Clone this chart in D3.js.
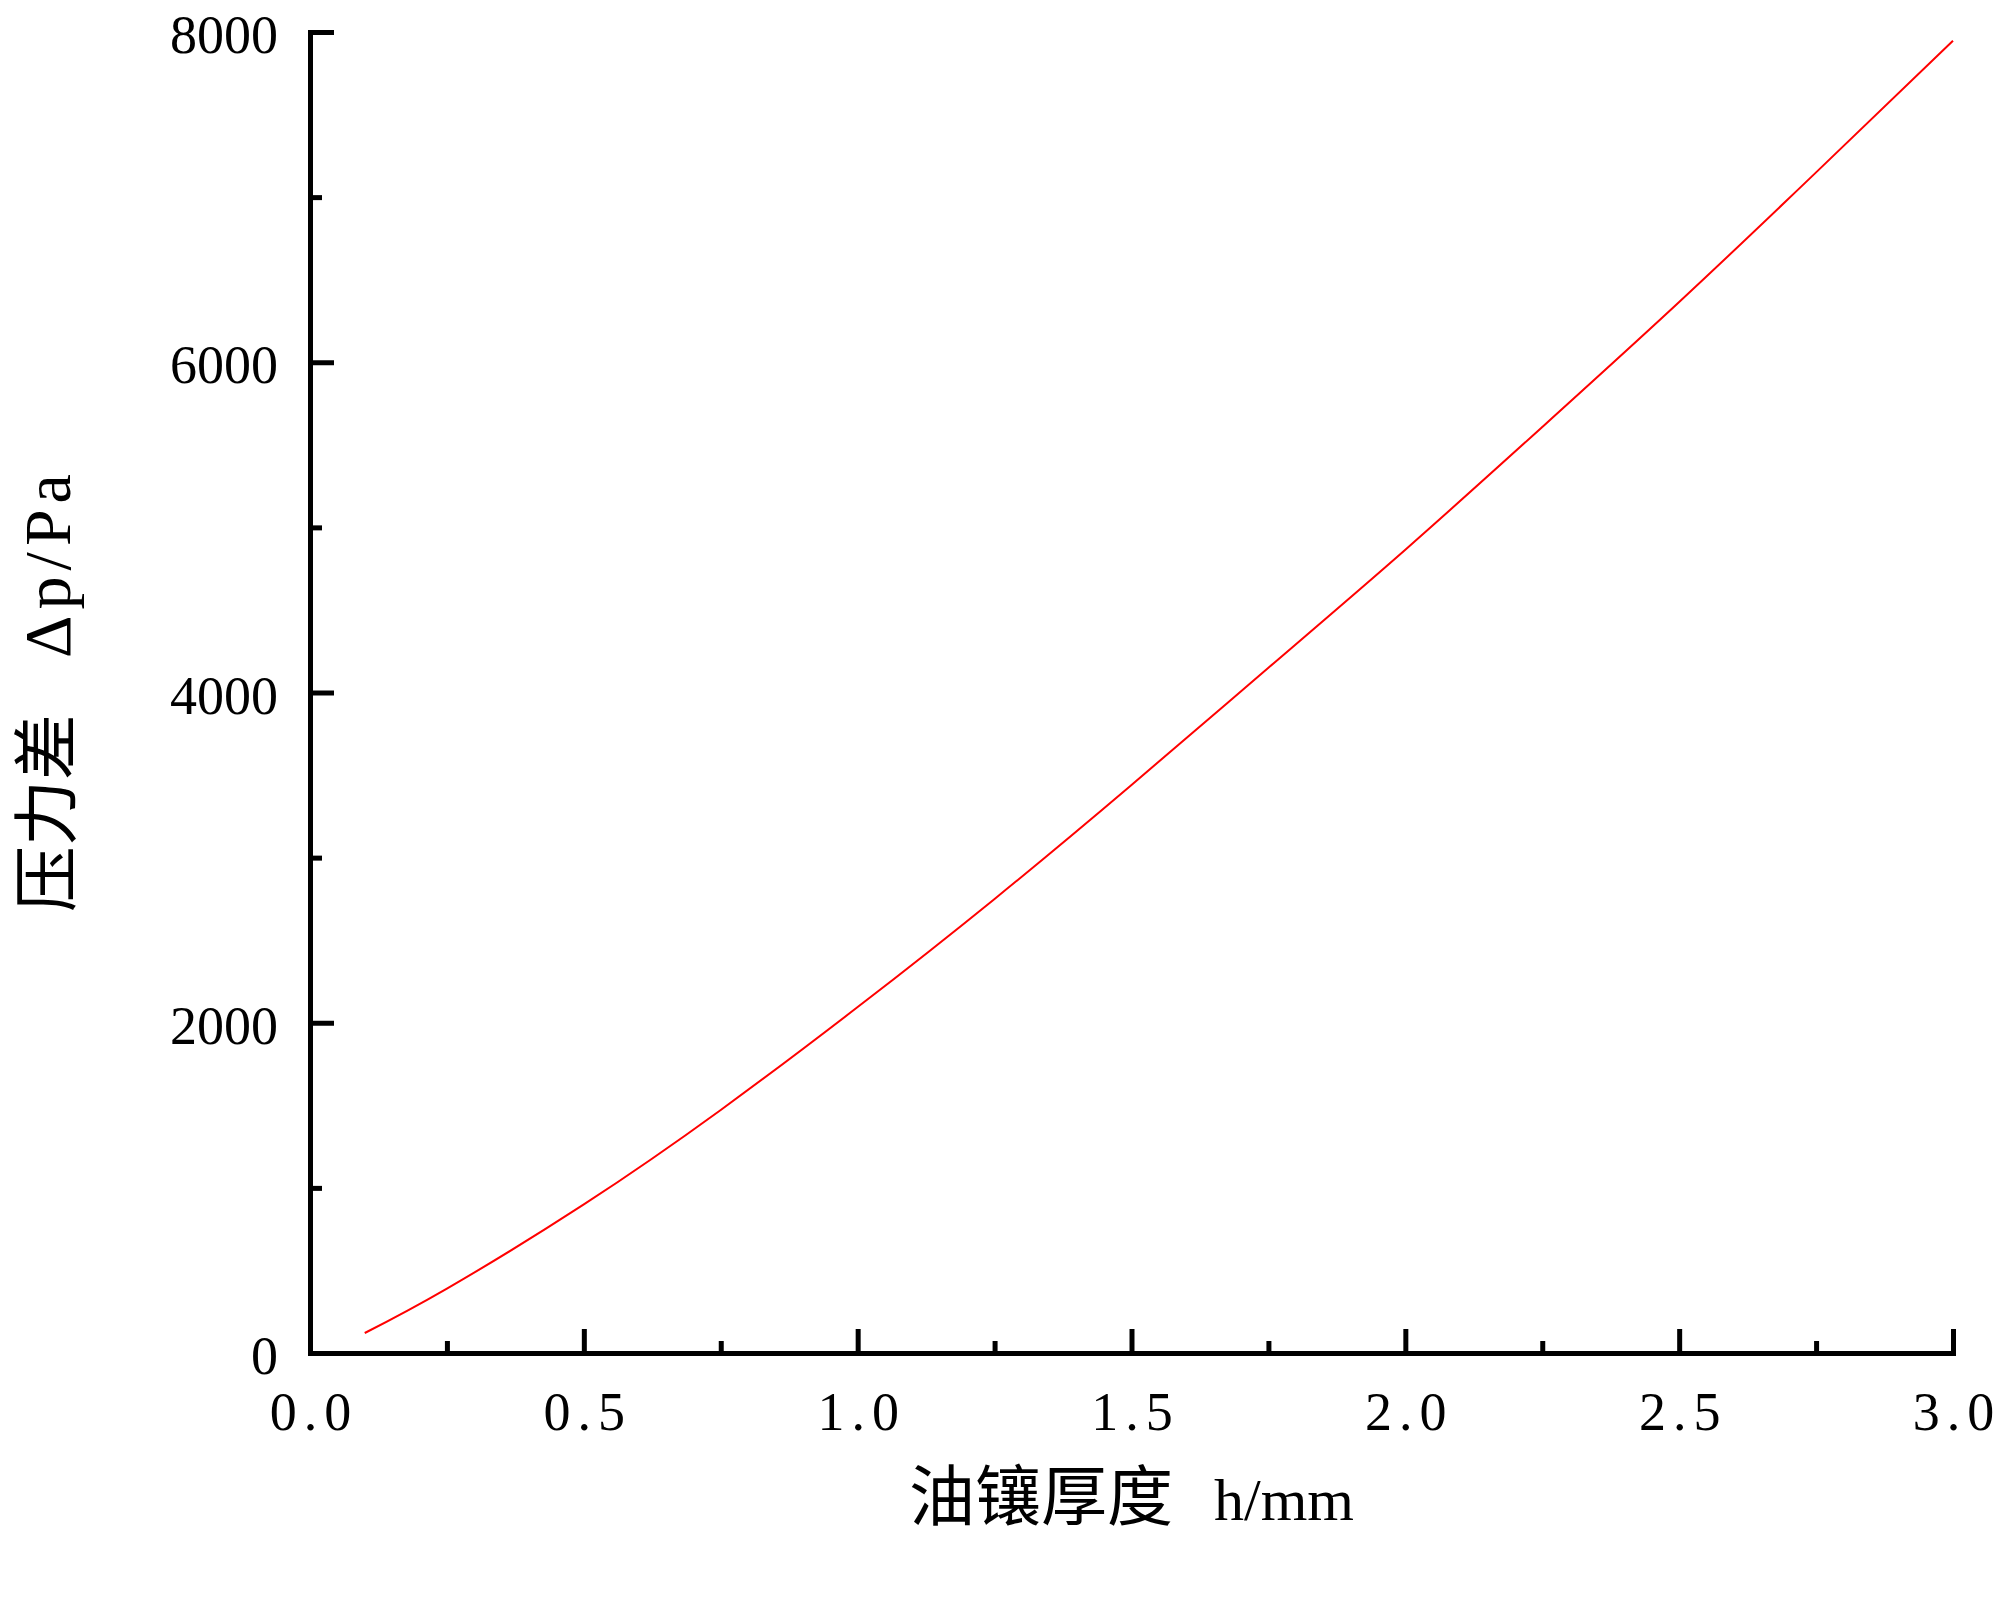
<!DOCTYPE html>
<html>
<head>
<meta charset="utf-8">
<script src="https://cdn.jsdelivr.net/npm/d3@7"></script>
<style>
  html, body { margin: 0; padding: 0; background: #fff; }
  svg { display: block; }
</style>
</head>
<body>
<svg id="chart" width="2000" height="1612"></svg>
<script>
// ---- data ----
const thickness = [0.1, 0.25, 0.5, 0.75, 1.0, 1.25, 1.5, 1.75, 2.0, 2.25, 2.5, 2.75, 3.0];
const pressureDiff = [121, 390, 900, 1472, 2095, 2750, 3440, 4150, 4865, 5608, 6365, 7150, 7947];
const xMajorTicks = [0, 0.5, 1.0, 1.5, 2.0, 2.5, 3.0];
const xMinorTicks = [0.25, 0.75, 1.25, 1.75, 2.25, 2.75];
const yMajorTicks = [0, 2000, 4000, 6000, 8000];
const yMinorTicks = [1000, 3000, 5000, 7000];
const xTitleCJK = "油镶厚度";
const xTitleLatin = "h/mm";
const yTitleCJK = "压力差";
const yTitleLatin = "Δp/Pa";

// ---- layout ----
(function () {
const svg = d3.select("#chart");
const pLeft = 310, pRight = 1953, pTop = 32, pBottom = 1353;
const x = d3.scaleLinear().domain([0, 3]).range([pLeft, pRight]);
const y = d3.scaleLinear().domain([0, 8000]).range([pBottom, pTop]);
const serif = "'Liberation Serif', 'Noto Sans CJK SC', serif";
const axisW = 5;

// curve
const line = d3.line()
  .x((d, i) => x(thickness[i]))
  .y(d => y(d))
  .curve(d3.curveNatural);
svg.append("path")
  .datum(pressureDiff)
  .attr("d", line)
  .attr("fill", "none")
  .attr("stroke", "#ff0000")
  .attr("stroke-width", 2);

// x axis
const gx = svg.append("g").attr("transform", `translate(0,${pBottom})`)
  .call(d3.axisBottom(x).tickValues(xMajorTicks).tickSize(-24).tickSizeOuter(0)
        .tickPadding(39).tickFormat(d3.format(".1f")));
const gxm = svg.append("g").attr("transform", `translate(0,${pBottom})`)
  .call(d3.axisBottom(x).tickValues(xMinorTicks).tickSize(-12).tickSizeOuter(0).tickFormat(""));
gxm.select(".domain").remove();

// y axis
const gy = svg.append("g").attr("transform", `translate(${pLeft},0)`)
  .call(d3.axisLeft(y).tickValues(yMajorTicks).tickSize(-24).tickSizeOuter(0)
        .tickPadding(32).tickFormat(d3.format("d")));
const gym = svg.append("g").attr("transform", `translate(${pLeft},0)`)
  .call(d3.axisLeft(y).tickValues(yMinorTicks).tickSize(-12).tickSizeOuter(0).tickFormat(""));
gym.select(".domain").remove();

[gx, gxm, gy, gym].forEach(g => {
  g.selectAll(".domain").attr("stroke", "#000").attr("stroke-width", axisW).attr("stroke-linecap", "square");
  g.selectAll(".tick line").attr("stroke", "#000").attr("stroke-width", axisW);
});

gx.selectAll(".tick text")
  .attr("font-family", serif).attr("font-size", 54).attr("fill", "#000")
  .attr("y", 39)
  .attr("dy", "0.71em")
  .style("letter-spacing", "7px")
  .attr("dx", 3.5);
gy.selectAll(".tick text")
  .attr("font-family", serif).attr("font-size", 54).attr("fill", "#000")
  .attr("x", -32)
  .attr("dy", "0.38em");

// x title
const xt = svg.append("text")
  .attr("x", (pLeft + pRight) / 2)
  .attr("y", 1520)
  .attr("text-anchor", "middle")
  .attr("font-family", serif)
  .attr("font-size", 66)
  .attr("fill", "#000");
xt.append("tspan").attr("font-family", "'Noto Sans CJK SC', sans-serif").text(xTitleCJK);
xt.append("tspan").attr("dx", 41).attr("font-size", 60).text(xTitleLatin);

// y title
const yt = svg.append("text")
  .attr("transform", `translate(70,690) rotate(-90)`)
  .attr("text-anchor", "middle")
  .attr("font-family", serif)
  .attr("font-size", 66)
  .attr("fill", "#000");
yt.append("tspan").attr("font-family", "'Noto Sans CJK SC', sans-serif").text(yTitleCJK);
yt.append("tspan").attr("dx", 56).style("letter-spacing", "6px").text(yTitleLatin);
})();
</script>
</body>
</html>
